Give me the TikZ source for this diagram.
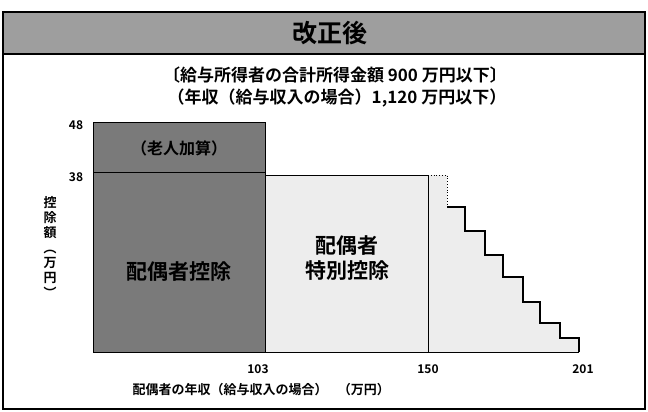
\documentclass[tikz,border=0pt]{standalone}
\usepackage{fontspec}
\setmainfont{Noto Sans CJK JP}[BoldFont={* Bold}]
\usetikzlibrary{positioning}
\tikzset{
  label/.style={inner sep=0pt, font=\fontsize{12}{12}\selectfont\bfseries},
  boxtext/.style={inner sep=0pt, align=center, font=\fontsize{21}{25}\selectfont\bfseries},
  stair/.style={draw, line width=1.4pt},
}
\definecolor{titlegray}{gray}{0.62}
\definecolor{darkfill}{gray}{0.48}
\definecolor{lightfill}{gray}{0.93}
\newcommand{\vparen}[1]{\rotatebox[origin=c]{-90}{#1}}

\begin{document}
\begin{tikzpicture}[x=1pt, y=-1pt]
        \useasboundingbox (0,0) rectangle (648,412);
        % frame and title bar
        \draw[line width=1.2pt] (3,12) rectangle (645,409);
        \draw[line width=1.2pt, fill=titlegray] (3,12) rectangle (645,54);
        \node[inner sep=0pt, font=\fontsize{25}{25}\selectfont\bfseries] (title) at (330,33) {改正後};
        \node[inner sep=0pt, font=\fontsize{17}{17}\selectfont\bfseries] (cond1) at (335,75) {〔給与所得者の合計所得金額\ 900 万円以下〕};
        \node[inner sep=0pt, font=\fontsize{17}{17}\selectfont\bfseries] (cond2) at (337,98) {（年収（給与収入の場合）1,120 万円以下）};
        % boxes
        \fill[lightfill] (265,175) -- (447,175) -- (447,207) -- (465,207) -- (465,231) -- (485,231) -- (485,255)
              -- (503,255) -- (503,277) -- (523,277) -- (523,302) -- (540,302) -- (540,323) -- (560,323)
              -- (560,338) -- (579,338) -- (579,352) -- (265,352) -- cycle;
        \draw[thick] (265,175) rectangle (428,352);
        \draw[thick] (428,352) -- (579,352);
        \draw[thick, dotted] (428,175) -- (447,175) -- (447,207);
        \draw[stair] (447,207) -- (465,207) -- (465,231) -- (485,231) -- (485,255) -- (503,255) -- (503,277)
              -- (523,277) -- (523,302) -- (540,302) -- (540,323) -- (560,323) -- (560,338) -- (579,338) -- (579,352);
        \draw[thick, fill=darkfill] (93,122) rectangle (265,352);
        \draw[thick] (93,172) -- (265,172);
        \node[boxtext, font=\fontsize{16}{16}\selectfont\bfseries] (rojin) at (179,148) {（老人加算）};
        \node[boxtext] (haigu) at (179,272) {配偶者控除};
        \node[boxtext] (tokubetsu) at (347,258) {配偶者\\特別控除};
        % axis labels
        \node[label] (y48) at (76,125) {48};
        \node[label] (y38) at (76,177) {38};
        \node[label] (x103) at (258,369) {103};
        \node[label] (x150) at (428,369) {150};
        \node[label] (x201) at (583,369) {201};
        \node[inner sep=0pt, align=center, font=\fontsize{13}{15}\selectfont\bfseries] (ytitle) at (50,248)
              {控\\除\\額\\\vparen{（}\\万\\円\\\vparen{）}};
        \node[inner sep=0pt, font=\fontsize{13}{13}\selectfont\bfseries] (xtitle) at (230,390) {配偶者の年収（給与収入の場合）};
        \node[inner sep=0pt, font=\fontsize{13}{13}\selectfont\bfseries, right=10pt of xtitle] (xunit) {（万円）};
    \end{tikzpicture}
\end{document}
